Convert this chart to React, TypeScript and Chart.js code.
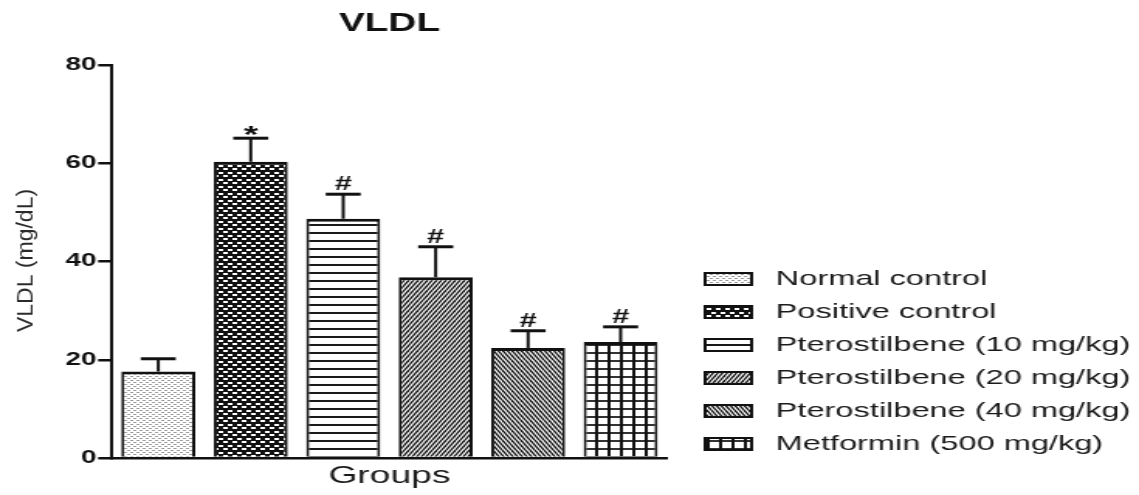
import React, { useEffect, useRef } from 'react';
import { Chart, registerables } from 'chart.js';

Chart.register(...registerables);

// ---- data ----
const groups = [
  'Normal control',
  'Positive control',
  'Pterostilbene (10 mg/kg)',
  'Pterostilbene (20 mg/kg)',
  'Pterostilbene (40 mg/kg)',
  'Metformin (500 mg/kg)',
];
const vldlMean = [17.6, 60.3, 48.7, 36.8, 22.4, 23.6];
const vldlError = [2.6, 4.8, 5.0, 6.2, 3.5, 3.1];
const significance = ['', '*', '#', '#', '#', '#'];
const fillPatterns = ['dots', 'checker', 'hlines', 'diagUp', 'diagDown', 'grid'];
const yTicks = [0, 20, 40, 60, 80];
const chartTitle = 'VLDL';
const yAxisTitle = 'VLDL (mg/dL)';
const xAxisTitle = 'Groups';

// ---- layout (the figure is drawn narrow and stretched horizontally, like the reference) ----
const W = 735;
const H = 495;
const SX = 1139 / W;
const FONT = "'Liberation Sans', Arial, Helvetica, sans-serif";
const INK = '#111';

function makeTile(kind: string): HTMLCanvasElement {
  const c = document.createElement('canvas');
  const g = c.getContext('2d')!;
  const size = (w: number, h: number) => {
    c.width = w;
    c.height = h;
    g.fillStyle = '#fff';
    g.fillRect(0, 0, w, h);
  };
  switch (kind) {
    case 'dots':
      size(4, 4);
      g.fillStyle = '#9a9a9a';
      g.fillRect(0, 0, 2, 1);
      g.fillRect(2, 2, 2, 1);
      break;
    case 'checker':
      size(6, 7);
      g.fillStyle = '#111';
      g.fillRect(0, 0, 6, 7);
      g.fillStyle = '#fff';
      g.fillRect(0, 0, 3, 2);
      g.fillRect(3, 4, 3, 2);
      break;
    case 'hlines':
      size(1, 8);
      g.fillStyle = '#1a1a1a';
      g.fillRect(0, 0, 1, 2);
      break;
    case 'diagUp':
    case 'diagDown':
      size(6, 10);
      g.strokeStyle = '#111';
      g.lineWidth = 1.4;
      for (let o = -6; o <= 6; o += 3) {
        g.beginPath();
        if (kind === 'diagUp') {
          g.moveTo(o, 10);
          g.lineTo(o + 6, 0);
        } else {
          g.moveTo(o, 0);
          g.lineTo(o + 6, 10);
        }
        g.stroke();
      }
      break;
    case 'grid':
      size(8, 8);
      g.fillStyle = '#333';
      g.fillRect(0, 0, 8, 2);
      g.fillStyle = '#111';
      g.fillRect(0, 0, 2, 8);
      break;
    default:
      size(1, 1);
  }
  return c;
}

const errorBarPlugin = {
  id: 'errorBars',
  afterDatasetsDraw(chart: any) {
    const ctx: CanvasRenderingContext2D = chart.ctx;
    const meta = chart.getDatasetMeta(0);
    const yScale = chart.scales.y;
    ctx.save();
    ctx.strokeStyle = INK;
    ctx.fillStyle = INK;
    meta.data.forEach((bar: any, i: number) => {
      const x = bar.x;
      const top = yScale.getPixelForValue(vldlMean[i] + vldlError[i]);
      ctx.lineWidth = 2;
      ctx.beginPath();
      ctx.moveTo(x, bar.y);
      ctx.lineTo(x, top);
      ctx.stroke();
      ctx.lineWidth = 3;
      ctx.beginPath();
      ctx.moveTo(x - 11.3, top);
      ctx.lineTo(x + 11.3, top);
      ctx.stroke();
      const mark = significance[i];
      if (mark) {
        ctx.textAlign = 'center';
        ctx.textBaseline = 'alphabetic';
        if (mark === '*') {
          ctx.font = `bold 24px ${FONT}`;
          ctx.fillText(mark, x, top + 5);
        } else {
          ctx.font = `bold 20px ${FONT}`;
          ctx.fillText(mark, x, top - 4);
        }
      }
    });
    ctx.restore();
  },
};

const decorPlugin = {
  id: 'decor',
  afterDraw(chart: any) {
    const ctx: CanvasRenderingContext2D = chart.ctx;
    const area = chart.chartArea;
    ctx.save();
    // chart title, centred over the plot area
    ctx.fillStyle = INK;
    ctx.font = `bold 25px ${FONT}`;
    ctx.textAlign = 'center';
    ctx.textBaseline = 'alphabetic';
    ctx.fillText(chartTitle, (area.left + area.right) / 2, 30.5);

    // y-axis title (drawn without the horizontal stretch)
    ctx.save();
    ctx.translate(26 / SX, (area.top + area.bottom) / 2 - 1);
    ctx.scale(1 / SX, 1);
    ctx.rotate(-Math.PI / 2);
    ctx.font = `23px ${FONT}`;
    ctx.fillStyle = '#2a2a2a';
    ctx.textAlign = 'center';
    ctx.textBaseline = 'middle';
    ctx.fillText(yAxisTitle, 0, 0);
    ctx.restore();

    // legend
    const patterns = chart.data.datasets[0].backgroundColor;
    const boxX = 455;
    const boxW = 30;
    const boxH = 12;
    const textX = 500.6;
    const firstY = 279;
    const rowGap = 33;
    groups.forEach((name, i) => {
      const cy = firstY + i * rowGap;
      ctx.fillStyle = patterns[i];
      ctx.fillRect(boxX, cy - boxH / 2, boxW, boxH);
      ctx.lineWidth = 2;
      ctx.strokeStyle = INK;
      ctx.strokeRect(boxX, cy - boxH / 2, boxW, boxH);
      ctx.fillStyle = '#1a1a1a';
      ctx.font = `21px ${FONT}`;
      ctx.textAlign = 'left';
      ctx.textBaseline = 'middle';
      ctx.fillText(name, textX, cy);
    });
    ctx.restore();
  },
};

export default function App() {
  const ref = useRef<HTMLCanvasElement>(null);

  useEffect(() => {
    const canvas = ref.current!;
    const ctx = canvas.getContext('2d')!;
    const patterns = fillPatterns.map((k) => ctx.createPattern(makeTile(k), 'repeat')!);

    const chart = new Chart(canvas, {
      type: 'bar',
      data: {
        labels: groups,
        datasets: [
          {
            label: chartTitle,
            data: vldlMean,
            backgroundColor: patterns as any,
            borderColor: INK,
            borderWidth: { top: 3, left: 2, right: 2, bottom: 0 } as any,
            borderSkipped: 'start',
            categoryPercentage: 1,
            barPercentage: 0.8,
          },
        ],
      },
      options: {
        responsive: false,
        animation: false,
        devicePixelRatio: 1,
        layout: { padding: { top: 65, right: W - 430.3, bottom: 0, left: 0 } },
        plugins: {
          legend: { display: false },
          title: { display: false },
          tooltip: { enabled: false },
        },
        scales: {
          x: {
            grid: { display: false },
            ticks: { display: false },
            border: { display: true, color: INK, width: 2.5 },
            title: {
              display: true,
              text: xAxisTitle,
              font: { family: FONT, size: 24 },
              color: '#1a1a1a',
              padding: { top: 0, bottom: 4 },
            },
            afterFit: (s: any) => {
              s.height = 37;
            },
          },
          y: {
            min: 0,
            max: 80,
            afterBuildTicks: (s: any) => {
              s.ticks = yTicks.map((v) => ({ value: v }));
            },
            ticks: {
              font: { family: FONT, size: 18, weight: 'bold' },
              color: INK,
              padding: 1,
            },
            grid: {
              drawOnChartArea: false,
              drawTicks: true,
              tickLength: 9,
              color: INK,
              lineWidth: 2.5,
            },
            border: { display: true, color: INK, width: 2 },
            afterFit: (s: any) => {
              s.width = 72.3;
            },
          },
        },
      } as any,
      plugins: [errorBarPlugin, decorPlugin],
    });

    return () => chart.destroy();
  }, []);

  return (
    <div style={{ position: 'fixed', left: 0, top: 0, width: 1139, height: 495, background: '#fff' }}>
      <canvas
        ref={ref}
        width={W}
        height={H}
        style={{ width: '1139px', height: '495px', display: 'block' }}
      />
    </div>
  );
}
